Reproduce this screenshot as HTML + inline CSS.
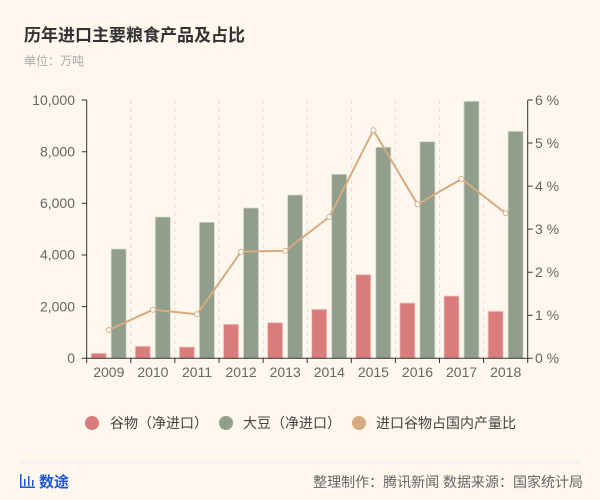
<!DOCTYPE html>
<html><head><meta charset="utf-8"><style>
body{margin:0;background:#fef7ee;}
svg{display:block;font-family:"Liberation Sans","Noto Sans CJK SC",sans-serif;}
</style></head><body>
<svg width="600" height="500" viewBox="0 0 600 500">
<rect width="600" height="500" fill="#fef7ee"/>
<text x="24" y="41" font-size="17" font-weight="bold" fill="#333">历年进口主要粮食产品及占比</text>
<text x="24" y="65" font-size="12" fill="#aaa">单位：万吨</text>
<g stroke="#ddd" stroke-dasharray="4,4" stroke-width="1">
<line x1="130.8" y1="100" x2="130.8" y2="358"/><line x1="174.9" y1="100" x2="174.9" y2="358"/><line x1="219" y1="100" x2="219" y2="358"/><line x1="263.1" y1="100" x2="263.1" y2="358"/><line x1="307.2" y1="100" x2="307.2" y2="358"/><line x1="351.3" y1="100" x2="351.3" y2="358"/><line x1="395.4" y1="100" x2="395.4" y2="358"/><line x1="439.5" y1="100" x2="439.5" y2="358"/><line x1="483.6" y1="100" x2="483.6" y2="358"/>
</g>
<g fill="#d87c7c" stroke="#f2c9c4" stroke-width="0.8">
<rect x="91.2" y="353.3" width="15" height="5"/>
<rect x="135.3" y="346.3" width="15" height="12"/>
<rect x="179.4" y="347" width="15" height="11.3"/>
<rect x="223.5" y="324.3" width="15" height="34"/>
<rect x="267.6" y="322.7" width="15" height="35.6"/>
<rect x="311.7" y="309.3" width="15" height="49"/>
<rect x="355.8" y="274.7" width="15" height="83.6"/>
<rect x="399.9" y="303" width="15" height="55.3"/>
<rect x="444" y="296" width="15" height="62.3"/>
<rect x="488.1" y="311.3" width="15" height="47"/>
</g>
<g fill="#919e8b" stroke="#d3d9cc" stroke-width="0.8">
<rect x="111.2" y="249" width="15" height="109.3"/>
<rect x="155.3" y="217" width="15" height="141.3"/>
<rect x="199.4" y="222.3" width="15" height="136"/>
<rect x="243.5" y="208" width="15" height="150.3"/>
<rect x="287.6" y="195" width="15" height="163.3"/>
<rect x="331.7" y="174.3" width="15" height="184"/>
<rect x="375.8" y="147.3" width="15" height="211"/>
<rect x="419.9" y="141.7" width="15" height="216.6"/>
<rect x="464" y="101.3" width="15" height="257"/>
<rect x="508.1" y="131.3" width="15" height="227"/>
</g>
<polyline fill="none" stroke="#d7ab82" stroke-width="2" points="108.8,330 152.9,309.7 197,314.3 241.1,251.7 285.2,250.7 329.3,217 373.4,130.3 417.5,204.3 461.6,179 505.7,213.3"/>
<g fill="#fff" stroke="#d7ab82" stroke-width="1">
<circle cx="108.8" cy="330" r="2.5"/><circle cx="152.9" cy="309.7" r="2.5"/><circle cx="197" cy="314.3" r="2.5"/><circle cx="241.1" cy="251.7" r="2.5"/><circle cx="285.2" cy="250.7" r="2.5"/><circle cx="329.3" cy="217" r="2.5"/><circle cx="373.4" cy="130.3" r="2.5"/><circle cx="417.5" cy="204.3" r="2.5"/><circle cx="461.6" cy="179" r="2.5"/><circle cx="505.7" cy="213.3" r="2.5"/>
</g>
<g stroke="#333" stroke-width="1" fill="none">
<line x1="86.7" y1="100" x2="86.7" y2="358.3"/>
<line x1="527.7" y1="100" x2="527.7" y2="358.3"/>
<line x1="86.7" y1="358.3" x2="527.7" y2="358.3"/>
<path d="M81.7 100H86.7M81.7 151.7H86.7M81.7 203.3H86.7M81.7 255H86.7M81.7 306.6H86.7M81.7 358.3H86.7"/>
<path d="M527.7 100H532.7M527.7 143H532.7M527.7 186.1H532.7M527.7 229.1H532.7M527.7 272.2H532.7M527.7 315.2H532.7M527.7 358.3H532.7"/>
<path d="M86.7 358V363M130.8 358V363M174.9 358V363M219 358V363M263.1 358V363M307.2 358V363M351.3 358V363M395.4 358V363M439.5 358V363M483.6 358V363M527.7 358V363"/>
</g>
<g font-size="14" fill="#666" text-anchor="end">
<text x="75" y="105">10,000</text><text x="75" y="156.5">8,000</text><text x="75" y="208">6,000</text><text x="75" y="259.7">4,000</text><text x="75" y="311.3">2,000</text><text x="75" y="363">0</text>
</g>
<g font-size="14" fill="#666">
<text x="535" y="105">6 %</text><text x="535" y="148">5 %</text><text x="535" y="191">4 %</text><text x="535" y="234">3 %</text><text x="535" y="277">2 %</text><text x="535" y="320">1 %</text><text x="535" y="363">0 %</text>
</g>
<g font-size="14" fill="#666" text-anchor="middle">
<text x="108.8" y="377">2009</text><text x="152.9" y="377">2010</text><text x="197" y="377">2011</text><text x="241.1" y="377">2012</text><text x="285.2" y="377">2013</text><text x="329.3" y="377">2014</text><text x="373.4" y="377">2015</text><text x="417.5" y="377">2016</text><text x="461.6" y="377">2017</text><text x="505.7" y="377">2018</text>
</g>
<g font-size="14" fill="#444">
<circle cx="92" cy="423" r="7" fill="#d87c7c"/><text x="110" y="428">谷物（净进口）</text>
<circle cx="226" cy="423" r="7" fill="#919e8b"/><text x="243" y="428">大豆（净进口）</text>
<circle cx="359" cy="423" r="7" fill="#d7ab82"/><text x="376" y="428">进口谷物占国内产量比</text>
</g>
<line x1="20" y1="462.5" x2="580" y2="462.5" stroke="#eee" stroke-width="1.5"/>
<g fill="#1a55d6">
<rect x="20" y="474" width="1.5" height="14"/><rect x="20" y="486.5" width="15" height="1.5"/>
<rect x="24" y="479" width="1.5" height="7"/><rect x="28" y="476" width="1.5" height="10"/><rect x="32" y="480" width="1.5" height="6"/>
<text x="39" y="487" font-size="15" font-weight="bold">数途</text>
</g>
<text x="583" y="487" font-size="14" fill="#666" text-anchor="end">整理制作：腾讯新闻  数据来源：国家统计局</text>
</svg>
</body></html>
